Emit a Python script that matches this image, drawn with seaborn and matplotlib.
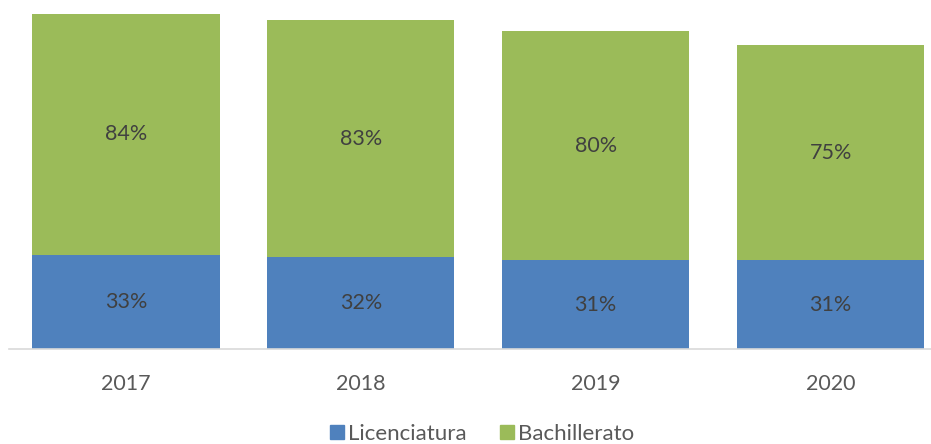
import matplotlib
matplotlib.use("Agg")
import matplotlib.pyplot as plt
import seaborn as sns
import pandas as pd
import numpy as np
from matplotlib.patches import Patch

years = ["2017", "2018", "2019", "2020"]
licenciatura = [33, 32, 31, 31]
bachillerato = [84, 83, 80, 75]

BLUE = "#4F81BD"
GREEN = "#9BBB59"
TXT = "#595959"

sns.set_theme(style="white")
plt.rcParams["font.family"] = ["Lato", "DejaVu Sans"]

totals = [a + b for a, b in zip(licenciatura, bachillerato)]
df = pd.DataFrame({"year": years, "lic": licenciatura, "bach": bachillerato, "total": totals})

fig = plt.figure(figsize=(9.31, 4.44), dpi=100)
ax = fig.add_axes([8.6 / 931, (444 - 349) / 444, 939.4 / 931, 349 / 444])

sns.barplot(data=df, x="year", y="total", color=GREEN, saturation=1, width=0.797, ax=ax, linewidth=0)
sns.barplot(data=df, x="year", y="lic", color=BLUE, saturation=1, width=0.797, ax=ax, linewidth=0)

for i, (l, b) in enumerate(zip(licenciatura, bachillerato)):
    ax.text(i, l / 2, f"{l}%", ha="center", va="center", fontsize=15.5, color="#404040")
    ax.text(i, l + b / 2, f"{b}%", ha="center", va="center", fontsize=15.5, color="#404040")

ax.set_ylim(0, 117 * 349 / 335)
ax.set_xlim(-0.5, 3.5)
ax.set_xlabel("")
ax.set_ylabel("")
ax.set_yticks([])
for s in ["top", "left", "right"]:
    ax.spines[s].set_visible(False)
ax.spines["bottom"].set_color("#D9D9D9")
ax.spines["bottom"].set_linewidth(1.2)
ax.tick_params(axis="x", length=0, labelsize=15.5, labelcolor=TXT, pad=18)

handles = [Patch(color=BLUE, label="Licenciatura"), Patch(color=GREEN, label="Bachillerato")]
fig.legend(handles=handles, loc="center", bbox_to_anchor=(482 / 931, 1 - 434 / 444),
           ncol=2, frameon=False, fontsize=16, labelcolor=TXT, handlelength=0.62,
           handleheight=0.62, handletextpad=0.2, columnspacing=1.5)

fig.savefig("out.png", dpi=100)
